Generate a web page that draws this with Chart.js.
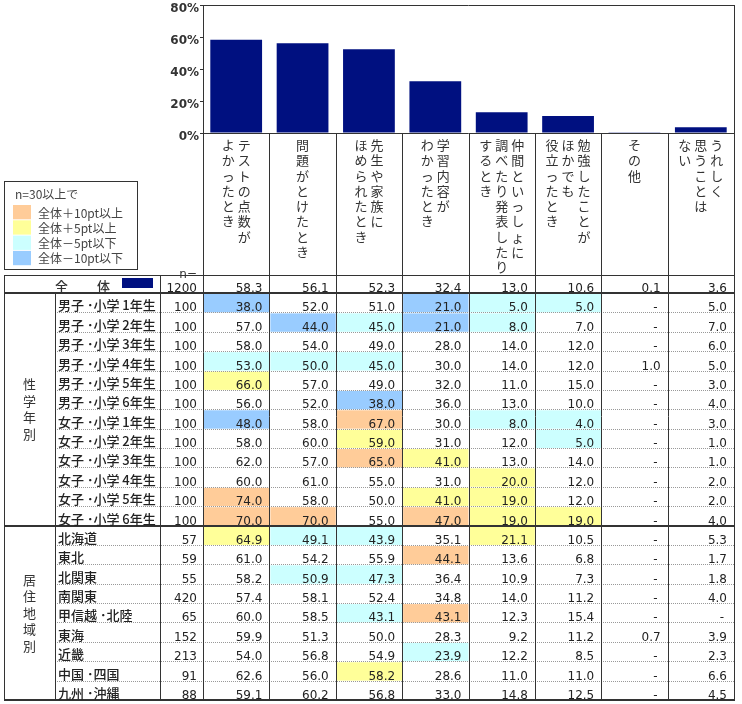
<!DOCTYPE html>
<html lang="ja">
<head>
<meta charset="utf-8">
<title>うれしいと思うとき</title>
<script src="https://cdn.jsdelivr.net/npm/chart.js@4.4.1/dist/chart.umd.min.js"></script>
<style>
  html, body { margin: 0; padding: 0; background: #fff; }
  #chart { display: block; }
</style>
</head>
<body>
<canvas id="chart" width="742" height="704"></canvas>
<script>
// Column headings, each split into its vertical lines (read right to left)
const categories = [
  ["テストの点数が", "よかったとき"],
  ["問題がとけたとき"],
  ["先生や家族に", "ほめられたとき"],
  ["学習内容が", "わかったとき"],
  ["仲間といっしょに", "調べたり発表したり", "するとき"],
  ["勉強したことが", "ほかでも", "役立ったとき"],
  ["その他"],
  ["うれしく", "思うことは", "ない"],
];
const yTicks = [0, 20, 40, 60, 80];

// 全体
const totalN = 1200;
const totalValues = [58.3, 56.1, 52.3, 32.4, 13.0, 10.6, 0.1, 3.6];

// 性学年別 (null = "-")
const gradeLabels = [
  "男子 ･小学 1年生", "男子 ･小学 2年生", "男子 ･小学 3年生", "男子 ･小学 4年生",
  "男子 ･小学 5年生", "男子 ･小学 6年生", "女子 ･小学 1年生", "女子 ･小学 2年生",
  "女子 ･小学 3年生", "女子 ･小学 4年生", "女子 ･小学 5年生", "女子 ･小学 6年生",
];
const gradeN = [100, 100, 100, 100, 100, 100, 100, 100, 100, 100, 100, 100];
const gradeValues = [
  [38.0, 52.0, 51.0, 21.0, 5.0, 5.0, null, 5.0],
  [57.0, 44.0, 45.0, 21.0, 8.0, 7.0, null, 7.0],
  [58.0, 54.0, 49.0, 28.0, 14.0, 12.0, null, 6.0],
  [53.0, 50.0, 45.0, 30.0, 14.0, 12.0, 1.0, 5.0],
  [66.0, 57.0, 49.0, 32.0, 11.0, 15.0, null, 3.0],
  [56.0, 52.0, 38.0, 36.0, 13.0, 10.0, null, 4.0],
  [48.0, 58.0, 67.0, 30.0, 8.0, 4.0, null, 3.0],
  [58.0, 60.0, 59.0, 31.0, 12.0, 5.0, null, 1.0],
  [62.0, 57.0, 65.0, 41.0, 13.0, 14.0, null, 1.0],
  [60.0, 61.0, 55.0, 31.0, 20.0, 12.0, null, 2.0],
  [74.0, 58.0, 50.0, 41.0, 19.0, 12.0, null, 2.0],
  [70.0, 70.0, 55.0, 47.0, 19.0, 19.0, null, 4.0],
];

// 居住地域別
const regionLabels = [
  "北海道", "東北", "北関東", "南関東", "甲信越 ･北陸",
  "東海", "近畿", "中国 ･四国", "九州 ･沖縄",
];
const regionN = [57, 59, 55, 420, 65, 152, 213, 91, 88];
const regionValues = [
  [64.9, 49.1, 43.9, 35.1, 21.1, 10.5, null, 5.3],
  [61.0, 54.2, 55.9, 44.1, 13.6, 6.8, null, 1.7],
  [58.2, 50.9, 47.3, 36.4, 10.9, 7.3, null, 1.8],
  [57.4, 58.1, 52.4, 34.8, 14.0, 11.2, null, 4.0],
  [60.0, 58.5, 43.1, 43.1, 12.3, 15.4, null, null],
  [59.9, 51.3, 50.0, 28.3, 9.2, 11.2, 0.7, 3.9],
  [54.0, 56.8, 54.9, 23.9, 12.2, 8.5, null, 2.3],
  [62.6, 56.0, 58.2, 28.6, 11.0, 11.0, null, 6.6],
  [59.1, 60.2, 56.8, 33.0, 14.8, 12.5, null, 4.5],
];

// Legend of the shading rule
const legendTitle = "n=30以上で";
const legendItems = ["全体＋10pt以上", "全体＋5pt以上", "全体－5pt以下", "全体－10pt以下"];

const shadeColors = ["#FFCC99", "#FFFF99", "#CCFFFF", "#99CCFF"];
const barColor = "#001080";
const lineColor = "#333";
const textColor = "#333";
const jpFont = '"Noto Sans CJK JP", sans-serif';
const numFont = '"DejaVu Sans", sans-serif';

// Pick the shade for a cell from its difference to the total
function shadeFor(value, total, n) {
  if (value == null || n < 30) return null;
  const d = Math.round((value - total) * 10) / 10;
  if (d >= 10) return shadeColors[0];
  if (d >= 5) return shadeColors[1];
  if (d <= -10) return shadeColors[3];
  if (d <= -5) return shadeColors[2];
  return null;
}

function hLine(ctx, x1, x2, y, w) {
  ctx.lineWidth = w;
  ctx.beginPath();
  ctx.moveTo(x1, y);
  ctx.lineTo(x2, y);
  ctx.stroke();
}

function vLine(ctx, x, y1, y2, w) {
  ctx.lineWidth = w;
  ctx.beginPath();
  ctx.moveTo(x, y1);
  ctx.lineTo(x, y2);
  ctx.stroke();
}

// Draws the frame, the vertical headings, the legend box and the table
const tablePlugin = {
  id: "table",
  afterDraw(chart) {
    const ctx = chart.ctx;
    const area = chart.chartArea;
    const xs = chart.scales.x;
    const colW = xs.getPixelForValue(1) - xs.getPixelForValue(0);
    const colLeft = i => xs.getPixelForValue(i) - colW / 2;
    const colRight = i => xs.getPixelForValue(i) + colW / 2;

    const tableTop = 275;
    const totalBottom = 293;
    const tableBottom = 700;
    const left = 4, groupRight = 55, labelRight = 160;
    const rowH = (tableBottom - totalBottom) / (gradeLabels.length + regionLabels.length);

    const sections = [
      { title: "性学年別", labels: gradeLabels, n: gradeN, values: gradeValues },
      { title: "居住地域別", labels: regionLabels, n: regionN, values: regionValues },
    ];
    let y = totalBottom;
    sections.forEach(s => { s.top = y; y += rowH * s.labels.length; s.bottom = y; });

    ctx.save();

    // cell shading
    sections.forEach(s => {
      s.values.forEach((row, r) => {
        const top = s.top + r * rowH;
        row.forEach((v, i) => {
          const c = shadeFor(v, totalValues[i], s.n[r]);
          if (!c) return;
          ctx.fillStyle = c;
          ctx.fillRect(colLeft(i) + 1, top + 1, colW - 1, rowH - 1);
        });
      });
    });

    // dotted row separators
    ctx.strokeStyle = "#999";
    ctx.setLineDash([1, 1]);
    sections.forEach(s => {
      for (let r = 1; r < s.labels.length; r++) {
        hLine(ctx, groupRight, area.right, Math.round(s.top + r * rowH) + 0.5, 1);
      }
    });
    ctx.setLineDash([]);

    // frame and grid lines
    ctx.strokeStyle = lineColor;
    hLine(ctx, area.left, area.right, area.top + 0.5, 1);
    vLine(ctx, area.right + 0.5, area.top, tableBottom, 1);
    vLine(ctx, area.left + 0.5, area.top, tableBottom, 1);
    for (let i = 1; i < categories.length; i++) {
      vLine(ctx, Math.round(colLeft(i)) + 0.5, area.bottom, tableBottom, 1);
    }
    hLine(ctx, area.left, area.right, area.bottom + 0.5, 1);
    hLine(ctx, left, area.right, tableTop + 0.5, 1);
    hLine(ctx, left, area.right, totalBottom, 2);
    hLine(ctx, left, area.right, Math.round(sections[1].top), 2);
    hLine(ctx, left, area.right + 1, tableBottom, 2);
    vLine(ctx, left + 0.5, tableTop, tableBottom, 1);
    vLine(ctx, groupRight + 0.5, totalBottom, tableBottom, 1);
    vLine(ctx, labelRight + 0.5, tableTop, tableBottom, 1);

    // vertical column headings
    ctx.fillStyle = textColor;
    ctx.font = "13px " + jpFont;
    ctx.textAlign = "center";
    ctx.textBaseline = "middle";
    const gap = 16, pitch = 15.3;
    categories.forEach((lines, i) => {
      const cx = xs.getPixelForValue(i);
      lines.forEach((line, j) => {
        const lx = cx + (lines.length - 1) * gap / 2 - j * gap;
        [...line].forEach((ch, k) => ctx.fillText(ch, lx, area.bottom + 12 + k * pitch));
      });
    });

    // section titles, written vertically
    sections.forEach(s => {
      const chars = [...s.title];
      const mid = (s.top + s.bottom) / 2;
      chars.forEach((ch, k) => {
        ctx.fillText(ch, (left + groupRight) / 2, mid + (k - (chars.length - 1) / 2) * 16.5);
      });
    });

    // legend box
    ctx.strokeStyle = lineColor;
    ctx.lineWidth = 1;
    ctx.strokeRect(4.5, 181.5, 133, 88);
    ctx.textAlign = "left";
    ctx.textBaseline = "alphabetic";
    ctx.font = "12px " + jpFont;
    ctx.fillStyle = "#444";
    ctx.fillText(legendTitle, 15, 199);
    legendItems.forEach((label, k) => {
      const top = 205 + k * 15.3;
      ctx.fillStyle = shadeColors[k];
      ctx.fillRect(13, top, 18, 14.3);
      ctx.fillStyle = "#444";
      ctx.fillText(label, 38, top + 12.5);
    });

    // "n=" heading and total row
    ctx.fillStyle = textColor;
    ctx.font = "12px " + numFont;
    ctx.textAlign = "right";
    ctx.fillText("n=", 197, tableTop + 3);
    ctx.font = "500 13px " + jpFont;
    ctx.textAlign = "left";
    ctx.fillText("全", 55, totalBottom - 2);
    ctx.fillText("体", 97, totalBottom - 2);
    ctx.fillStyle = barColor;
    ctx.fillRect(122, tableTop + 3, 31, 10);

    const drawNumbers = (n, values, bottom) => {
      ctx.fillStyle = "#222";
      ctx.font = "12px " + numFont;
      ctx.textAlign = "right";
      ctx.fillText(String(n), area.left - 6, bottom - 1);
      values.forEach((v, i) => {
        if (v == null) ctx.fillText("-", colRight(i) - 10, bottom - 1);
        else ctx.fillText(v.toFixed(1), colRight(i) - 7, bottom - 1);
      });
    };
    drawNumbers(totalN, totalValues, totalBottom);

    sections.forEach(s => {
      s.labels.forEach((label, r) => {
        const bottom = s.top + (r + 1) * rowH;
        ctx.fillStyle = "#222";
        ctx.font = "500 13px " + jpFont;
        ctx.textAlign = "left";
        ctx.fillText(label, groupRight + 3, bottom - 2);
        drawNumbers(s.n[r], s.values[r], bottom);
      });
    });

    ctx.restore();
  },
};

new Chart(document.getElementById("chart"), {
  type: "bar",
  data: {
    labels: categories.map(lines => lines.join("")),
    datasets: [{
      data: totalValues,
      backgroundColor: barColor,
      borderWidth: 0,
      barPercentage: 0.78,
      categoryPercentage: 1,
    }],
  },
  options: {
    responsive: false,
    animation: false,
    layout: { padding: { top: 5, right: 8, bottom: 571, left: 0 } },
    plugins: { legend: { display: false }, tooltip: { enabled: false } },
    scales: {
      x: { display: false, offset: true },
      y: {
        min: 0,
        max: 80,
        afterBuildTicks: s => { s.ticks = yTicks.map(v => ({ value: v })); },
        afterFit: s => { s.width = 203; s.paddingTop = 0; s.paddingBottom = 0; },
        ticks: {
          callback: v => v + "%",
          color: textColor,
          font: { family: "DejaVu Sans", size: 12, weight: "bold" },
          padding: 1,
          labelOffset: 4,
        },
        grid: { drawOnChartArea: false, drawTicks: true, tickLength: 3, color: lineColor },
        border: { display: true, color: lineColor, width: 1 },
      },
    },
  },
  plugins: [tablePlugin],
});
</script>
</body>
</html>
